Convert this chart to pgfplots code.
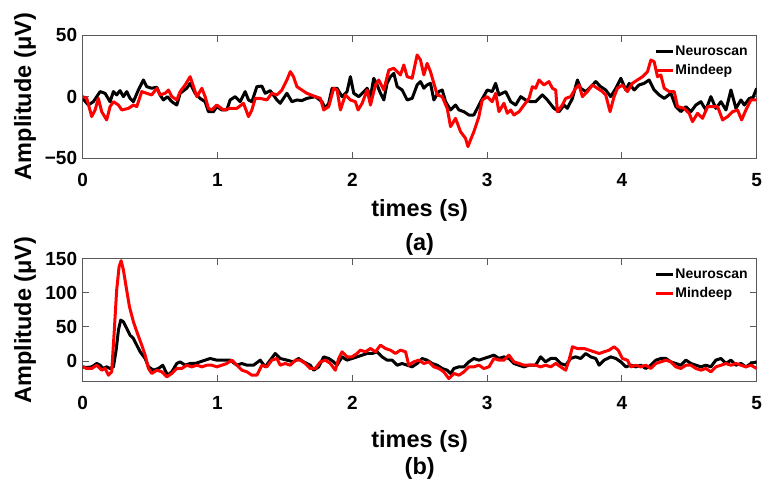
\documentclass[border=0pt]{standalone}
\usepackage{fontspec}
\setmainfont{Liberation Sans}
\usepackage{pgfplots}
\pgfplotsset{compat=1.18}

\newcommand{\lblfont}{\fontsize{23.5}{24}\selectfont\bfseries}
\pgfplotsset{
  eeg/.style={
    scale only axis, width=674pt, height=123.3pt,
    clip mode=individual,
    xmin=0, xmax=5, xtick={0,1,2,3,4,5},
    /pgf/number format/assume math mode=true,
    axis line style={black!65, line width=0.9pt},
    every tick/.style={black!65, line width=0.9pt},
    major tick length=6.7pt,
    tick align=inside,
    tick label style={font=\fontsize{19}{19}\selectfont\bfseries},
    xticklabel style={anchor=center, yshift=-21.5pt},
    yticklabel style={anchor=east, inner sep=0pt, xshift=-5.4pt},
    every axis y label/.style={at={(axis description cs:-0.0856,0.5)}, anchor=center, rotate=90, font=\lblfont},
    legend style={draw=none, fill=none, at={(axis description cs:1,1)}, anchor=north east,
      xshift=-7.7pt, yshift=-9.5pt, inner sep=0pt, row sep=5.5pt,
      font=\fontsize{14}{14}\selectfont\bfseries, nodes={inner sep=1pt}},
    legend cell align=left,
    legend image code/.code={\draw[#1] (0pt,0pt) -- (17pt,0pt);},
  },
}

\begin{document}
\begin{tikzpicture}
\useasboundingbox (0,0) rectangle (771pt,487pt);

% ---------- (a)
\begin{axis}[eeg, at={(82.7pt,328.7pt)}, anchor=south west,
  ymin=-50, ymax=50, ytick={-50,0,50}, yticklabels={−50,0,50},
  xlabel={times (s)}, ylabel={Amplitude (μV)},
  every axis x label/.style={at={(axis description cs:0.5,-0.426)}, anchor=center, font=\lblfont}]
\addplot[black, line width=3pt, line join=round] coordinates {
(0.000,-1.4) (0.042,-6.8) (0.079,-4.1) (0.129,4.1) (0.166,2.7) (0.203,-4.1) (0.228,4.1)
(0.252,1.4) (0.277,4.9) (0.302,0) (0.327,4.1) (0.351,-1.4) (0.376,-4.1) (0.413,5.4)
(0.450,13.5) (0.475,8.1) (0.512,6.8) (0.550,7.6) (0.574,1.4) (0.599,-2.7) (0.629,0)
(0.661,-4.1) (0.698,-6.8) (0.723,2.7) (0.772,6.8) (0.797,10.8) (0.834,2.7) (0.871,-1.4)
(0.908,-4.1) (0.933,-12.2) (0.970,-12.2) (0.995,-8.1) (1.032,-10.8) (1.069,-10.8)
(1.094,-2.7) (1.131,0) (1.168,-4.1) (1.205,4.1) (1.230,-2.7) (1.255,-4.1) (1.292,8.1)
(1.329,8.6) (1.354,2.7) (1.391,4.9) (1.441,-2.7) (1.465,-5.4) (1.515,2.7) (1.552,-4.1)
(1.589,-2.7) (1.626,-3.2) (1.663,-1.4) (1.726,0) (1.775,-4.1) (1.800,-9.5) (1.825,-5.4)
(1.850,6.8) (1.887,6.8) (1.924,0) (1.961,4.1) (1.986,16.2) (2.011,2.7) (2.048,0)
(2.073,2.7) (2.110,6.8) (2.135,0) (2.159,14.9) (2.184,9.5) (2.209,2.7) (2.234,-2.7)
(2.258,10.8) (2.283,16.2) (2.308,18.9) (2.333,8.1) (2.370,5.4) (2.407,-2.7) (2.444,-1.4)
(2.481,9.5) (2.506,12.2) (2.531,6.8) (2.555,9.5) (2.580,10.8) (2.605,-2.7) (2.642,4.1)
(2.667,5.4) (2.692,-4.1) (2.729,-10.8) (2.766,-6.8) (2.791,-10.8) (2.828,-12.2)
(2.865,-14.9) (2.902,-14.9) (2.927,-9.5) (2.952,-4.1) (3.001,5.4) (3.038,4.1) (3.063,10.8)
(3.088,1.4) (3.138,4.1) (3.175,-4.1) (3.212,-6.8) (3.249,0) (3.286,-2.7) (3.323,-4.1)
(3.360,-4.1) (3.410,1.4) (3.447,-2.7) (3.496,-9.5) (3.534,-12.2) (3.571,-6.8) (3.595,-9.5)
(3.633,-1.4) (3.670,13.5) (3.694,6.8) (3.732,4.1) (3.769,8.1) (3.806,12.2) (3.843,8.1)
(3.880,5.4) (3.917,0) (3.955,6.8) (3.992,14.9) (4.029,5.4) (4.054,10.8) (4.091,5.4)
(4.128,9.5) (4.165,10.8) (4.202,13.5) (4.239,5.4) (4.276,1.4) (4.314,-1.4) (4.363,2.7)
(4.400,-8.1) (4.437,-12.2) (4.475,-8.1) (4.512,-12.2) (4.549,-6.8) (4.586,-4.1)
(4.623,-10.8) (4.660,0) (4.697,-9.5) (4.735,-4.1) (4.772,-10.8) (4.809,5.4) (4.846,-9.5)
(4.883,-2.7) (4.908,-6.8) (4.945,-1.4) (4.970,-1.4) (5.000,6.8)
};
\addlegendentry{Neuroscan}
\addplot[red, line width=3pt, line join=round] coordinates {
(0.000,0) (0.030,-1.4) (0.067,-16.2) (0.092,-10.8) (0.116,-1.4) (0.141,-12.2) (0.178,-18.9)
(0.203,-8.1) (0.228,-4.1) (0.265,-6.8) (0.290,-10.8) (0.339,-9.5) (0.376,-6.8) (0.401,-8.1)
(0.438,4.1) (0.475,2.7) (0.512,1.4) (0.550,6.8) (0.574,1.4) (0.611,2.7) (0.636,5.4)
(0.661,0) (0.698,-2.7) (0.723,4.1) (0.760,9.5) (0.797,16.2) (0.822,8.1) (0.847,0)
(0.884,6.8) (0.908,0) (0.933,-9.5) (0.958,-10.8) (0.995,-6.8) (1.045,-10.8) (1.094,-9.5)
(1.144,-9.5) (1.193,-5.4) (1.230,-16.2) (1.255,-10.8) (1.280,-1.4) (1.317,-1.4)
(1.366,-2.7) (1.403,2.7) (1.441,1.4) (1.478,5.4) (1.515,13.5) (1.540,20.3) (1.564,16.2)
(1.589,8.1) (1.626,5.4) (1.663,2.7) (1.726,0) (1.763,-1.4) (1.788,-10.8) (1.825,-8.1)
(1.862,6.8) (1.887,5.4) (1.912,-10.8) (1.949,1.4) (1.986,-2.7) (2.023,-4.1) (2.043,-10.8)
(2.073,-5.4) (2.110,5.4) (2.135,-6.8) (2.172,9.5) (2.196,13.5) (2.234,5.4) (2.271,21.6)
(2.308,23.0) (2.333,20.3) (2.357,17.6) (2.382,25.7) (2.407,16.2) (2.444,14.9) (2.481,33.8)
(2.506,29.7) (2.531,17.6) (2.555,27.0) (2.580,20.3) (2.605,10.8) (2.630,1.4) (2.667,0)
(2.704,-9.5) (2.729,-24.3) (2.766,-17.6) (2.803,-28.4) (2.840,-33.8) (2.858,-40.5)
(2.877,-35.1) (2.902,-28.4) (2.939,-16.2) (2.964,-2.7) (3.001,0) (3.038,-4.1) (3.063,2.7)
(3.088,-12.2) (3.125,-5.4) (3.150,-13.5) (3.175,-10.8) (3.199,-14.9) (3.237,-12.2)
(3.274,-6.8) (3.311,-1.4) (3.336,8.1) (3.360,6.8) (3.385,13.5) (3.422,9.5) (3.459,12.2)
(3.484,6.8) (3.509,5.4) (3.521,-12.2) (3.558,-6.8) (3.583,-1.4) (3.620,0) (3.657,6.8)
(3.682,9.5) (3.707,0) (3.744,4.1) (3.781,9.5) (3.818,6.8) (3.855,4.1) (3.880,1.4)
(3.912,-12.2) (3.942,0) (3.967,6.8) (4.004,9.5) (4.041,4.1) (4.078,10.8) (4.115,13.5)
(4.153,16.2) (4.190,20.3) (4.215,29.7) (4.239,28.4) (4.264,16.2) (4.289,17.6) (4.314,6.8)
(4.351,4.1) (4.388,4.1) (4.413,-8.1) (4.462,-9.5) (4.499,-13.5) (4.524,-20.3)
(4.561,-13.5) (4.598,-17.6) (4.636,-8.1) (4.673,-8.1) (4.710,-8.1) (4.747,-18.9)
(4.784,-16.2) (4.821,-12.2) (4.858,-10.8) (4.888,-18.9) (4.920,-10.8) (4.957,-2.7)
(5.000,-2.7)
};
\addlegendentry{Mindeep}
\node[font=\lblfont] at (axis description cs:0.5,-0.695) {(a)};
\end{axis}

% ---------- (b)
\begin{axis}[eeg, at={(82.7pt,105.3pt)}, anchor=south west, height=123.2pt,
  ymin=-30, ymax=150, ytick={0,50,100,150},
  xlabel={times (s)}, ylabel={Amplitude (μV)},
  every axis x label/.style={at={(axis description cs:0.5,-0.481)}, anchor=center, font=\lblfont}]
\addplot[black, line width=3pt, line join=round] coordinates {
(0.000,-8.3) (0.030,-9.3) (0.067,-8.3) (0.104,-3.4) (0.129,-5.9) (0.153,-10.7) (0.178,-8.3)
(0.203,-10.7) (0.228,-8.3) (0.248,16.1) (0.265,45.4) (0.282,60.0) (0.302,57.6)
(0.327,47.8) (0.351,38.0) (0.376,33.2) (0.401,23.4) (0.426,13.7) (0.463,3.9) (0.488,-8.3)
(0.525,-13.2) (0.562,-10.7) (0.594,-5.9) (0.629,-20.5) (0.661,-15.6) (0.698,-3.4)
(0.723,-1.0) (0.760,-5.9) (0.797,-3.4) (0.834,-3.4) (0.871,-1.0) (0.908,1.5) (0.946,3.9)
(0.995,1.5) (1.045,1.5) (1.094,1.5) (1.144,-5.9) (1.181,-3.4) (1.218,-5.9) (1.267,-5.9)
(1.317,1.5) (1.354,-8.3) (1.391,1.5) (1.428,11.2) (1.465,3.9) (1.515,1.5) (1.564,-1.0)
(1.601,3.9) (1.639,-1.0) (1.688,-5.9) (1.714,-13.2) (1.751,-8.3) (1.788,6.3) (1.825,3.9)
(1.862,-1.0) (1.887,-5.9) (1.924,6.3) (1.961,1.5) (1.998,3.9) (2.035,6.3) (2.073,8.8)
(2.110,11.2) (2.147,11.2) (2.184,13.7) (2.221,6.3) (2.258,1.5) (2.295,1.5) (2.333,-5.9)
(2.370,-3.4) (2.407,-5.9) (2.444,-8.3) (2.481,-3.4) (2.518,3.9) (2.555,1.5) (2.593,-3.4)
(2.630,-5.9) (2.667,-10.7) (2.704,-13.2) (2.729,-18.0) (2.754,-10.7) (2.791,-8.3)
(2.828,-8.3) (2.865,-1.0) (2.902,3.9) (2.939,1.5) (2.976,3.9) (3.014,6.3) (3.051,8.8)
(3.088,3.9) (3.125,6.3) (3.162,3.9) (3.199,-3.4) (3.237,-5.9) (3.274,-8.3) (3.311,-5.9)
(3.360,-5.9) (3.397,6.3) (3.434,-1.0) (3.472,3.9) (3.509,3.9) (3.546,-3.4) (3.583,-5.9)
(3.620,3.9) (3.657,6.3) (3.694,3.9) (3.732,11.2) (3.769,6.3) (3.806,3.9) (3.831,-5.9)
(3.868,1.5) (3.917,6.3) (3.955,3.9) (3.992,-1.0) (4.029,-8.3) (4.066,-5.9) (4.103,-8.3)
(4.140,-5.9) (4.177,-10.7) (4.215,-5.9) (4.252,1.5) (4.289,3.9) (4.326,3.9) (4.363,-1.0)
(4.400,-3.4) (4.437,-5.9) (4.475,1.5) (4.512,-3.4) (4.549,-5.9) (4.586,-8.3) (4.623,-5.9)
(4.660,-8.3) (4.697,1.5) (4.735,3.9) (4.772,-3.4) (4.809,1.5) (4.846,-5.9) (4.883,-3.4)
(4.920,-8.3) (4.957,-3.4) (5.000,-1.0)
};
\addlegendentry{Neuroscan}
\addplot[red, line width=3pt, line join=round] coordinates {
(0.000,-8.3) (0.030,-10.7) (0.067,-10.7) (0.104,-5.9) (0.141,-13.2) (0.166,-10.7)
(0.191,-20.5) (0.215,-15.6) (0.233,40.5) (0.252,103.9) (0.270,138.0) (0.285,146.8)
(0.302,133.2) (0.322,108.8) (0.347,79.5) (0.376,57.6) (0.406,40.5) (0.438,23.4)
(0.463,8.8) (0.488,-10.7) (0.512,-18.0) (0.550,-13.2) (0.587,-15.6) (0.624,-22.9)
(0.661,-18.0) (0.698,-10.7) (0.735,-10.7) (0.772,-5.9) (0.809,-8.3) (0.847,-5.9)
(0.884,-8.3) (0.921,-5.9) (0.958,-5.9) (0.995,-8.3) (1.032,-5.9) (1.069,-3.4) (1.106,1.5)
(1.144,-5.9) (1.181,-13.2) (1.218,-15.6) (1.255,-20.5) (1.292,-20.5) (1.329,-5.9)
(1.366,-8.3) (1.403,1.5) (1.441,3.9) (1.465,-5.9) (1.502,-3.4) (1.540,-5.9) (1.577,1.5)
(1.614,1.5) (1.651,-3.4) (1.688,-10.7) (1.726,-10.7) (1.763,-1.0) (1.800,1.5) (1.837,-3.4)
(1.874,-13.2) (1.899,3.9) (1.924,13.7) (1.961,6.3) (1.998,6.3) (2.035,11.2) (2.060,16.1)
(2.097,13.7) (2.135,18.5) (2.172,13.7) (2.209,23.4) (2.246,18.5) (2.283,16.1) (2.320,11.2)
(2.357,16.1) (2.395,13.7) (2.419,-5.9) (2.456,-1.0) (2.494,1.5) (2.531,-3.4) (2.568,-1.0)
(2.605,-8.3) (2.642,-10.7) (2.679,-15.6) (2.716,-25.4) (2.754,-18.0) (2.791,-20.5)
(2.828,-15.6) (2.865,-8.3) (2.902,-8.3) (2.939,-5.9) (2.976,-10.7) (3.014,-8.3) (3.051,3.9)
(3.088,1.5) (3.125,1.5) (3.162,8.8) (3.199,-1.0) (3.237,-3.4) (3.274,-5.9) (3.311,-5.9)
(3.360,-5.9) (3.397,-8.3) (3.434,-5.9) (3.472,-8.3) (3.509,-3.4) (3.546,-8.3) (3.583,-13.2)
(3.608,1.5) (3.633,21.0) (3.670,18.5) (3.719,18.5) (3.756,16.1) (3.794,13.7) (3.831,11.2)
(3.868,13.7) (3.905,16.1) (3.942,21.0) (3.972,16.1) (4.004,3.9) (4.041,1.5) (4.066,-8.3)
(4.103,-5.9) (4.140,-8.3) (4.177,-5.9) (4.215,-10.7) (4.252,-3.4) (4.289,-1.0) (4.326,1.5)
(4.363,-1.0) (4.400,-8.3) (4.437,-10.7) (4.475,-5.9) (4.512,-5.9) (4.549,-10.7)
(4.586,-13.2) (4.623,-10.7) (4.660,-15.6) (4.697,-8.3) (4.735,-5.9) (4.772,-3.4)
(4.809,-5.9) (4.846,-3.4) (4.883,-5.9) (4.920,-8.3) (4.957,-5.9) (5.000,-10.7)
};
\addlegendentry{Mindeep}
\node[font=\lblfont] at (axis description cs:0.5,-0.708) {(b)};
\end{axis}
\end{tikzpicture}
\end{document}
